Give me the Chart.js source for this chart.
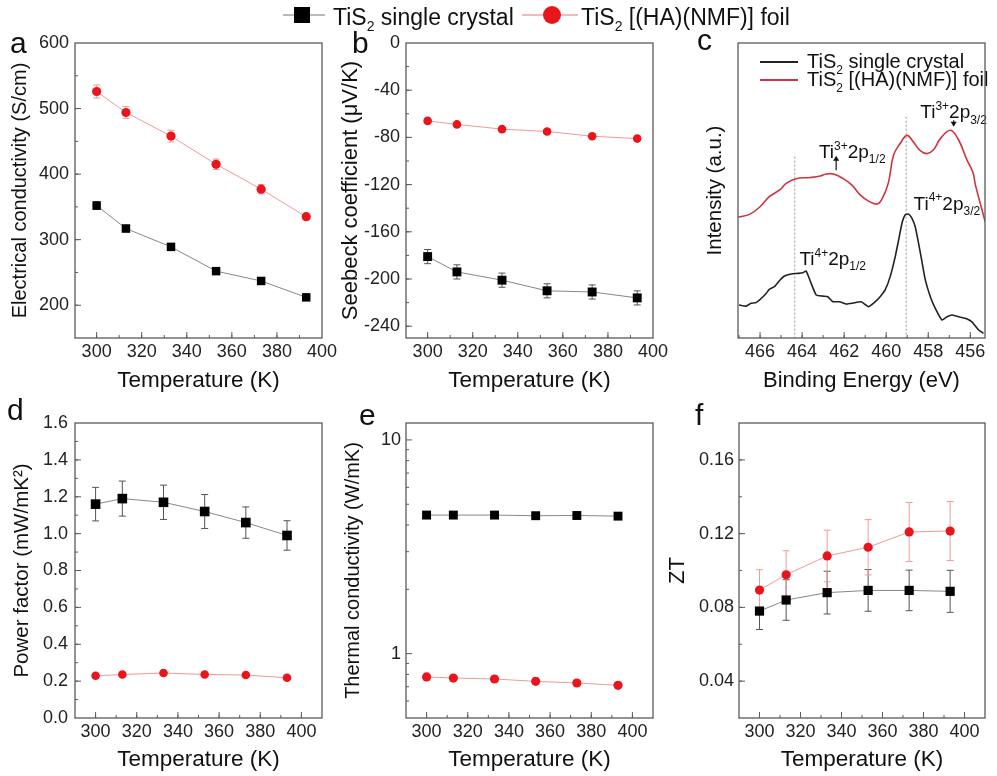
<!DOCTYPE html>
<html>
<head>
<meta charset="utf-8">
<script src="https://cdn.jsdelivr.net/npm/chart.js@4.4.1/dist/chart.umd.min.js"></script>
<style>
  html, body { margin: 0; padding: 0; background: #fff; }
  #wrap { position: relative; width: 997px; height: 776px; overflow: hidden; }
  canvas { position: absolute; }
</style>
</head>
<body>
<div id="wrap">
  <canvas id="pa" width="345" height="370" style="left:0;top:30px"></canvas>
  <canvas id="pb" width="345" height="370" style="left:330px;top:30px"></canvas>
  <canvas id="pc" width="337" height="370" style="left:660px;top:30px"></canvas>
  <canvas id="pd" width="345" height="376" style="left:0;top:400px"></canvas>
  <canvas id="pe" width="345" height="376" style="left:330px;top:400px"></canvas>
  <canvas id="pf" width="337" height="376" style="left:660px;top:400px"></canvas>
  <canvas id="overlay" width="997" height="776" style="left:0;top:0;pointer-events:none"></canvas>
</div>
<script>
// temperatures (K)
const temps = [300, 313, 333, 353, 373, 393];

// a - electrical conductivity (S/cm)
const sigmaCrystal = [352, 317, 289, 252, 237, 212];
const sigmaCrystalErr = [6, 5, 4, 4, 3, 3];
const sigmaFoil = [526, 494, 458, 415, 377, 335];
const sigmaFoilErr = [10, 9, 9, 8, 7, 4];

// b - Seebeck coefficient (uV/K)
const seebeckCrystal = [-181, -194, -201, -210, -211, -216];
const seebeckCrystalErr = [6, 6, 6, 6, 6, 6];
const seebeckFoil = [-66, -69, -73, -75, -79, -81];
const seebeckFoilErr = [1.5, 1.5, 1.5, 1.5, 1.5, 1.5];

// c - XPS Ti 2p (arbitrary intensity)
const beCrystal = [467.0, 466.67, 466.43, 466.19, 465.95, 465.71, 465.56, 465.32, 465.08, 464.84, 464.52, 464.2, 463.97, 463.81, 463.57, 463.33, 463.01, 462.78, 462.54, 462.22, 461.9, 461.59, 461.19, 460.84, 460.52, 460.29, 460.05, 459.81, 459.57, 459.41, 459.25, 459.1, 458.94, 458.78, 458.62, 458.46, 458.3, 458.14, 457.9, 457.67, 457.35, 457.11, 456.87, 456.56, 456.24, 455.92, 455.6, 455.37];
const intCrystal = [11.2, 10.8, 11.8, 12.0, 13.4, 15.1, 16.5, 17.4, 19.4, 21.0, 21.7, 21.9, 22.1, 22.7, 18.5, 14.6, 14.2, 14.0, 12.3, 12.3, 11.5, 11.8, 12.3, 10.6, 12.3, 14.0, 16.3, 20.8, 27.6, 33.2, 38.9, 41.7, 42.0, 40.6, 37.7, 32.1, 25.9, 19.7, 14.0, 10.1, 6.1, 7.2, 7.8, 7.2, 6.7, 5.5, 2.7, 1.6];
const beFoil = [467.03, 466.48, 466.0, 465.56, 465.05, 464.76, 464.29, 463.62, 463.14, 462.86, 462.51, 462.06, 461.63, 461.24, 460.84, 460.44, 460.21, 459.9, 459.65, 459.33, 459.01, 458.7, 458.38, 458.06, 457.75, 457.43, 456.95, 456.56, 456.16, 455.87, 455.76, 455.44, 455.29];
const intFoil = [41.0, 42.0, 44.5, 47.9, 50.3, 52.4, 54.0, 54.4, 54.9, 55.6, 55.6, 54.1, 51.8, 48.5, 46.4, 45.4, 47.0, 52.5, 62.0, 66.0, 68.7, 66.4, 63.5, 62.5, 63.8, 67.5, 70.4, 67.2, 60.4, 56.0, 52.0, 43.4, 39.4];

// d - power factor (mW/mK^2)
const pfCrystal = [1.16, 1.19, 1.17, 1.12, 1.06, 0.99];
const pfCrystalErr = [0.091, 0.095, 0.093, 0.092, 0.085, 0.08];
const pfFoil = [0.229, 0.236, 0.244, 0.236, 0.233, 0.218];
const pfFoilErr = [0.01, 0.01, 0.01, 0.01, 0.01, 0.01];

// e - thermal conductivity (W/mK)
const kappaCrystal = [4.45, 4.45, 4.45, 4.42, 4.43, 4.40];
const kappaCrystalErr = [0.15, 0.15, 0.15, 0.15, 0.15, 0.15];
const kappaFoil = [0.778, 0.769, 0.761, 0.742, 0.729, 0.711];
const kappaFoilErr = [0.02, 0.02, 0.02, 0.02, 0.02, 0.02];

// f - ZT
const ztCrystal = [0.078, 0.084, 0.088, 0.0892, 0.0892, 0.0887];
const ztCrystalErr = [0.010, 0.011, 0.0116, 0.0113, 0.011, 0.0114];
const ztFoil = [0.0894, 0.0977, 0.1079, 0.1126, 0.1209, 0.1214];
const ztFoilErr = [0.011, 0.013, 0.014, 0.015, 0.016, 0.016];

// tick labels
const tempTicks = [300, 320, 340, 360, 380, 400];
const sigmaTicks = [200, 300, 400, 500, 600];
const seebeckTicks = [-240, -200, -160, -120, -80, -40, 0];
const beTicks = [466, 464, 462, 460, 458, 456];
const pfTicks = [0, 0.2, 0.4, 0.6, 0.8, 1.0, 1.2, 1.4, 1.6];
const kappaTicks = [1, 10];
const kappaMinor = [0.5, 0.6, 0.7, 0.8, 0.9, 2, 3, 4, 5, 6, 7, 8, 9];
const ztTicks = [0.04, 0.08, 0.12, 0.16];

const FONT = '"Liberation Sans", Arial, Helvetica, sans-serif';
Chart.defaults.font.family = FONT;
Chart.defaults.color = '#222';

const RED = '#e8161c';
const crystalLabel = [['TiS', ''], ['2', 'sub'], [' single crystal', '']];
const foilLabel = [['TiS', ''], ['2', 'sub'], [' [(HA)(NMF)] foil', '']];

// text with sub/superscripts
function rich(ctx, x, y, parts, size, color) {
    ctx.fillStyle = color;
    ctx.textBaseline = 'alphabetic';
    ctx.textAlign = 'left';
    let cx = x;
    for (const [t, k] of parts) {
        const s = k ? Math.round(size * 0.62) : size;
        ctx.font = s + 'px ' + FONT;
        const dy = k === 'sub' ? size * 0.28 : (k === 'sup' ? -size * 0.45 : 0);
        ctx.fillText(t, cx, y + dy);
        cx += ctx.measureText(t).width;
    }
    return cx;
}

// half-step minor ticks between the majors, inside [min, max]
function minorsOf(major, min, max) {
    const half = Math.abs(major[1] - major[0]) / 2;
    const lo = Math.min(...major);
    const out = [];
    let v = lo;
    let guard = 0;
    while (v - half > min && guard++ < 100) v -= half;
    for (guard = 0; v < max + 1e-9 && guard < 200; v += half, guard++) out.push(Math.round(v * 1e6) / 1e6);
    return out;
}

// box around the plot + inward ticks on left and bottom
function framePlugin(xMajor, yMajor, xMinor, yMinor) {
    return {
        id: 'frame',
        afterDraw(chart) {
            const { ctx, chartArea: a, scales: { x, y } } = chart;
            ctx.save();
            ctx.strokeStyle = '#5a5a5a';
            ctx.lineWidth = 1.3;
            ctx.strokeRect(a.left, a.top, a.right - a.left, a.bottom - a.top);
            ctx.lineWidth = 1;
            const seg = (x1, y1, x2, y2) => { ctx.beginPath(); ctx.moveTo(x1, y1); ctx.lineTo(x2, y2); ctx.stroke(); };
            xMinor.forEach(v => { const p = x.getPixelForValue(v); if (p > a.left + 1 && p < a.right - 1) seg(p, a.bottom, p, a.bottom - 3); });
            xMajor.forEach(v => { const p = x.getPixelForValue(v); if (p > a.left + 1 && p < a.right - 1) seg(p, a.bottom, p, a.bottom - 6); });
            yMinor.forEach(v => { const p = y.getPixelForValue(v); if (p > a.top + 1 && p < a.bottom - 1) seg(a.left, p, a.left + 3, p); });
            yMajor.forEach(v => { const p = y.getPixelForValue(v); if (p > a.top + 1 && p < a.bottom - 1) seg(a.left, p, a.left + 6, p); });
            ctx.restore();
        }
    };
}

// vertical error bars under the markers
function errorPlugin(errs, colors) {
    return {
        id: 'errbars',
        beforeDatasetsDraw(chart) {
            const ctx = chart.ctx, ys = chart.scales.y;
            ctx.save();
            ctx.lineWidth = 1;
            errs.forEach((err, i) => {
                if (!err) return;
                const meta = chart.getDatasetMeta(i);
                const vals = chart.data.datasets[i].data;
                ctx.strokeStyle = colors[i];
                meta.data.forEach((pt, j) => {
                    const v = vals[j].y;
                    const t = ys.getPixelForValue(v + err[j]);
                    const b = ys.getPixelForValue(v - err[j]);
                    ctx.beginPath();
                    ctx.moveTo(pt.x, t); ctx.lineTo(pt.x, b);
                    ctx.moveTo(pt.x - 3.5, t); ctx.lineTo(pt.x + 3.5, t);
                    ctx.moveTo(pt.x - 3.5, b); ctx.lineTo(pt.x + 3.5, b);
                    ctx.stroke();
                });
            });
            ctx.restore();
        }
    };
}

function series(values, kind, radius) {
    const crystal = kind === 'crystal';
    return {
        data: temps.map((t, i) => ({ x: t, y: values[i] })),
        borderColor: crystal ? 'rgba(70,70,70,0.65)' : 'rgba(225,70,70,0.55)',
        borderWidth: 1,
        pointStyle: crystal ? 'rect' : 'circle',
        pointRadius: radius,
        pointBackgroundColor: crystal ? '#000' : RED,
        pointBorderColor: crystal ? '#000' : RED,
        pointBorderWidth: 0,
        tension: 0
    };
}

function scalesFor(o) {
    return {
        x: {
            type: 'linear', min: o.xMin, max: o.xMax, reverse: !!o.reverse,
            afterBuildTicks: s => { s.ticks = o.xTicks.map(v => ({ value: v })); },
            afterFit: s => { s.height = o.xHeight; s.paddingLeft = 0; s.paddingRight = 0; },
            grid: { display: false, drawTicks: false },
            border: { display: false },
            ticks: { font: { size: 18 }, color: '#222', padding: 3, maxRotation: 0, autoSkip: false, callback: v => String(v) },
            title: { display: true, text: o.xTitle, font: { size: o.xTitleSize || 22.5 }, color: '#111', padding: { top: 0, bottom: o.xTitlePad } }
        },
        y: {
            type: o.yType || 'linear', min: o.yMin, max: o.yMax,
            afterBuildTicks: s => { s.ticks = (o.yTicks || []).map(v => ({ value: v })); },
            afterFit: s => { s.width = o.yWidth; s.paddingTop = 0; s.paddingBottom = 0; },
            grid: { display: false, drawTicks: false },
            border: { display: false },
            ticks: { display: o.yTicks !== null, font: { size: 18 }, color: '#222', padding: o.yTickPad, autoSkip: false, callback: o.yFmt || (v => String(v)) },
            title: { display: true, text: o.yTitle, font: { size: o.yTitleSize }, color: '#111', padding: { top: o.yTitlePad, bottom: 0 } }
        }
    };
}

function tempPanel(id, o) {
    new Chart(document.getElementById(id), {
        type: 'line',
        data: { datasets: [series(o.crystal, 'crystal', o.rSq), series(o.foil, 'foil', o.rCi)] },
        options: {
            responsive: false, animation: false, devicePixelRatio: 1,
            layout: { padding: { top: o.padTop, right: o.padRight, left: 0, bottom: 0 } },
            plugins: { legend: { display: false }, tooltip: { enabled: false } },
            scales: scalesFor(o)
        },
        plugins: [
            errorPlugin([o.crystalErr, o.foilErr], ['#555', '#f19a9a']),
            framePlugin(o.xTicks, o.yTicks, minorsOf(o.xTicks, o.xMin, o.xMax), o.yMinor || minorsOf(o.yTicks, o.yMin, o.yMax))
        ]
    });
}

const topRow = { xTitle: 'Temperature (K)', xTicks: tempTicks, xHeight: 62, xTitlePad: 6, padTop: 13 };
const bottomRow = { xTitle: 'Temperature (K)', xTicks: tempTicks, xMin: 290, xMax: 410, xHeight: 58, xTitlePad: 3, padTop: 23 };

tempPanel('pa', Object.assign({}, topRow, {
    xMin: 290.4, xMax: 400, padRight: 23, yWidth: 75, yTickPad: 6, yTitlePad: 8, yTitleSize: 20,
    yMin: 150, yMax: 600, yTicks: sigmaTicks, yTitle: 'Electrical conductivity (S/cm)',
    crystal: sigmaCrystal, crystalErr: sigmaCrystalErr, foil: sigmaFoil, foilErr: sigmaFoilErr, rSq: 6, rCi: 4.6
}));

tempPanel('pb', Object.assign({}, topRow, {
    xMin: 290.4, xMax: 400, padRight: 22, yWidth: 76, yTickPad: 6, yTitlePad: 8, yTitleSize: 22,
    yMin: -250, yMax: 0, yTicks: seebeckTicks, yTitle: 'Seebeck coefficient (\u03BCV/K)',
    crystal: seebeckCrystal, crystalErr: seebeckCrystalErr, foil: seebeckFoil, foilErr: seebeckFoilErr, rSq: 6.3, rCi: 4.3
}));

tempPanel('pd', Object.assign({}, bottomRow, {
    padRight: 23, yWidth: 75, yTickPad: 7, yTitlePad: 10, yTitleSize: 20.5,
    yMin: 0, yMax: 1.6, yTicks: pfTicks, yFmt: v => v.toFixed(1), yTitle: 'Power factor (mW/mK\u00B2)',
    crystal: pfCrystal, crystalErr: pfCrystalErr, foil: pfFoil, foilErr: pfFoilErr, rSq: 6.8, rCi: 4.3
}));

tempPanel('pe', Object.assign({}, bottomRow, {
    padRight: 22, yWidth: 76, yTickPad: 5, yTitlePad: 11, yTitleSize: 20,
    yType: 'logarithmic', yMin: 0.5, yMax: 12, yTicks: kappaTicks, yMinor: kappaMinor, yTitle: 'Thermal conductivity (W/mK)',
    crystal: kappaCrystal, crystalErr: kappaCrystalErr, foil: kappaFoil, foilErr: kappaFoilErr, rSq: 6.3, rCi: 4.6
}));

tempPanel('pf', Object.assign({}, bottomRow, {
    padRight: 12, yWidth: 79, yTickPad: 5, yTitlePad: 5, yTitleSize: 22,
    yMin: 0.02, yMax: 0.18, yTicks: ztTicks, yFmt: v => v.toFixed(2), yTitle: 'ZT',
    crystal: ztCrystal, crystalErr: ztCrystalErr, foil: ztFoil, foilErr: ztFoilErr, rSq: 6.5, rCi: 4.6
}));

// c - XPS panel
const xpsMarkers = [{ be: 464.35, top: 61.5 }, { be: 459.05, top: 75 }];
const xpsNotes = [
    { be: 458.38, y: 74.5, parts: [['Ti', ''], ['3+', 'sup'], ['2p', ''], ['3/2', 'sub']] },
    { be: 463.2, y: 61, parts: [['Ti', ''], ['3+', 'sup'], ['2p', ''], ['1/2', 'sub']] },
    { be: 458.7, y: 43.4, parts: [['Ti', ''], ['4+', 'sup'], ['2p', ''], ['3/2', 'sub']] },
    { be: 464.13, y: 24.7, parts: [['Ti', ''], ['4+', 'sup'], ['2p', ''], ['1/2', 'sub']] }
];
const xpsArrows = [{ be: 456.79, from: 73.8, to: 71.6 }, { be: 462.38, from: 56.9, to: 61.8 }];

const xpsPlugin = {
    id: 'xps',
    beforeDatasetsDraw(chart) {
        const { ctx, scales: { x, y } } = chart;
        ctx.save();
        ctx.strokeStyle = '#999';
        ctx.lineWidth = 1;
        ctx.setLineDash([2, 2]);
        xpsMarkers.forEach(m => {
            const px = x.getPixelForValue(m.be);
            ctx.beginPath();
            ctx.moveTo(px, y.getPixelForValue(m.top));
            ctx.lineTo(px, chart.chartArea.bottom);
            ctx.stroke();
        });
        ctx.restore();
    },
    afterDraw(chart) {
        const { ctx, chartArea: a, scales: { x, y } } = chart;
        ctx.save();
        xpsNotes.forEach(n => rich(ctx, x.getPixelForValue(n.be), y.getPixelForValue(n.y), n.parts, 19, '#111'));
        ctx.strokeStyle = '#111';
        ctx.fillStyle = '#111';
        ctx.lineWidth = 1.2;
        xpsArrows.forEach(ar => {
            const px = x.getPixelForValue(ar.be);
            const y1 = y.getPixelForValue(ar.from), y2 = y.getPixelForValue(ar.to);
            const dir = y2 > y1 ? 1 : -1;
            ctx.beginPath();
            ctx.moveTo(px, y1); ctx.lineTo(px, y2 - dir * 3);
            ctx.stroke();
            ctx.beginPath();
            ctx.moveTo(px, y2); ctx.lineTo(px - 3, y2 - dir * 5); ctx.lineTo(px + 3, y2 - dir * 5);
            ctx.closePath(); ctx.fill();
        });
        // legend
        ctx.lineWidth = 1.8;
        ctx.strokeStyle = '#222';
        ctx.beginPath(); ctx.moveTo(a.left + 22, a.top + 19); ctx.lineTo(a.left + 60, a.top + 19); ctx.stroke();
        ctx.strokeStyle = '#cf3341';
        ctx.beginPath(); ctx.moveTo(a.left + 22, a.top + 37); ctx.lineTo(a.left + 60, a.top + 37); ctx.stroke();
        rich(ctx, a.left + 69, a.top + 25, crystalLabel, 20, '#111');
        rich(ctx, a.left + 69, a.top + 43, foilLabel, 20, '#111');
        ctx.restore();
    }
};

new Chart(document.getElementById('pc'), {
    type: 'line',
    data: {
        datasets: [
            { data: beCrystal.map((b, i) => ({ x: b, y: intCrystal[i] })), borderColor: '#222', borderWidth: 1.6, pointRadius: 0, tension: 0.15 },
            { data: beFoil.map((b, i) => ({ x: b, y: intFoil[i] })), borderColor: '#cf3341', borderWidth: 1.6, pointRadius: 0, tension: 0.4 }
        ]
    },
    options: {
        responsive: false, animation: false, devicePixelRatio: 1,
        layout: { padding: { top: 13, right: 12, left: 0, bottom: 0 } },
        plugins: { legend: { display: false }, tooltip: { enabled: false } },
        scales: scalesFor({
            xMin: 455.3, xMax: 467.05, reverse: true, xTicks: beTicks, xHeight: 62, xTitlePad: 6, xTitleSize: 22, xTitle: 'Binding Energy (eV)',
            yMin: 0, yMax: 100, yTicks: null, yWidth: 78, yTickPad: 4, yTitlePad: 43, yTitleSize: 20.5, yTitle: 'Intensity (a.u.)'
        })
    },
    plugins: [xpsPlugin, framePlugin(beTicks, [], minorsOf(beTicks, 455.3, 467.05), [])]
});

// shared legend and panel letters
const ov = document.getElementById('overlay').getContext('2d');
ov.strokeStyle = 'rgba(90,90,90,0.55)';
ov.lineWidth = 1.5;
ov.beginPath(); ov.moveTo(283, 15); ov.lineTo(325, 15); ov.stroke();
ov.fillStyle = '#000';
ov.fillRect(294, 7, 16, 16);
rich(ov, 333, 25, crystalLabel, 23, '#111');
ov.strokeStyle = 'rgba(230,90,90,0.55)';
ov.beginPath(); ov.moveTo(522, 15); ov.lineTo(578, 15); ov.stroke();
ov.fillStyle = RED;
ov.beginPath(); ov.arc(552, 15, 9, 0, Math.PI * 2); ov.fill();
rich(ov, 581, 25, foilLabel, 23, '#111');

const letters = [['a', 10, 53], ['b', 352, 53], ['c', 697, 50], ['d', 7, 420], ['e', 359, 425], ['f', 695, 425]];
ov.font = '30px ' + FONT;
ov.fillStyle = '#111';
letters.forEach(([t, x, y]) => ov.fillText(t, x, y));
</script>
</body>
</html>
